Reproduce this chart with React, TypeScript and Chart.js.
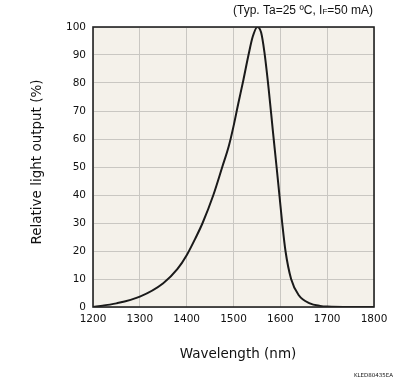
import React, { useEffect, useRef } from "react";
import { Chart, registerables } from "chart.js";

Chart.register(...registerables);

const wavelengths = [1200, 1250, 1300, 1350, 1380, 1400, 1420, 1434, 1457, 1476, 1490, 1500, 1510, 1521, 1532, 1541, 1551, 1559, 1566, 1575, 1584, 1592, 1598, 1604, 1611, 1623, 1639, 1663, 1685, 1700, 1750, 1800];
const relOutput = [0, 1.3, 3.7, 8.5, 13.5, 18.5, 25, 30, 40, 50, 57.5, 64.5, 72.5, 81, 90, 96.5, 100, 98, 91, 78, 63, 50, 40, 30, 20, 10, 4.3, 1.3, 0.4, 0.15, 0, 0];
const xTicks = [1200, 1300, 1400, 1500, 1600, 1700, 1800];
const yTicks = [0, 10, 20, 30, 40, 50, 60, 70, 80, 90, 100];
const xTitle = "Wavelength (nm)";
const yTitle = "Relative light output (%)";
const noteMain = "(Typ. Ta=25 ºC, I";
const noteSub = "F";
const noteEnd = "=50 mA)";
const codeLabel = "KLED80435EA";

const FONT = "'DejaVu Sans', sans-serif";
const NOTE_FONT = "'Liberation Sans', sans-serif";

const decorPlugin = {
  id: "decor",
  beforeDraw(chart: any) {
    const { ctx, chartArea: a } = chart;
    ctx.save();
    ctx.fillStyle = "#f4f1ea";
    ctx.fillRect(a.left, a.top, a.right - a.left, a.bottom - a.top);
    ctx.restore();
  },
  afterDraw(chart: any) {
    const { ctx, chartArea: a } = chart;
    ctx.save();
    ctx.strokeStyle = "#222";
    ctx.lineWidth = 1.6;
    ctx.strokeRect(a.left, a.top, a.right - a.left, a.bottom - a.top);

    ctx.fillStyle = "#111";
    ctx.font = `13.5px ${FONT}`;
    ctx.textAlign = "center";
    ctx.textBaseline = "middle";
    ctx.fillText(xTitle, 238, 354);

    ctx.save();
    ctx.translate(37, 162);
    ctx.rotate(-Math.PI / 2);
    ctx.fillText(yTitle, 0, 0);
    ctx.restore();

    // annotation, right aligned
    ctx.textAlign = "left";
    ctx.textBaseline = "alphabetic";
    const fMain = `12px ${NOTE_FONT}`;
    const fSub = `8px ${NOTE_FONT}`;
    ctx.font = fMain;
    const w1 = ctx.measureText(noteMain).width;
    const w3 = ctx.measureText(noteEnd).width;
    ctx.font = fSub;
    const w2 = ctx.measureText(noteSub).width;
    const total = w1 + w2 + w3;
    let x = a.right - 1 - total;
    const base = 14;
    ctx.font = fMain;
    ctx.fillText(noteMain, x, base);
    x += w1;
    ctx.font = fSub;
    ctx.fillText(noteSub, x, base);
    x += w2;
    ctx.font = fMain;
    ctx.fillText(noteEnd, x, base);

    ctx.font = `5.5px ${FONT}`;
    ctx.textAlign = "right";
    ctx.fillText(codeLabel, 393, 377);
    ctx.restore();
  },
};

export default function App() {
  const ref = useRef<HTMLCanvasElement | null>(null);
  useEffect(() => {
    if (!ref.current) return;
    const chart = new Chart(ref.current, {
      type: "line",
      data: {
        datasets: [
          {
            data: wavelengths.map((w, i) => ({ x: w, y: relOutput[i] })),
            borderColor: "#1a1a1a",
            borderWidth: 2,
            pointRadius: 0,
            cubicInterpolationMode: "monotone",
            fill: false,
          },
        ],
      },
      options: {
        responsive: false,
        animation: false,
        layout: { padding: { top: 27, right: 22, left: 0, bottom: 0 } },
        plugins: { legend: { display: false }, tooltip: { enabled: false } },
        scales: {
          x: {
            type: "linear",
            min: 1200,
            max: 1800,
            afterBuildTicks: (s: any) => {
              s.ticks = xTicks.map((v) => ({ value: v }));
            },
            afterFit: (s: any) => {
              s.height = 73;
            },
            ticks: {
              color: "#111",
              font: { family: FONT, size: 10.5 },
              padding: 6,
              maxRotation: 0,
              callback: (v: any) => String(v),
            },
            grid: { color: "#c9c7c2", lineWidth: 1, drawTicks: false },
            border: { display: false },
          },
          y: {
            min: 0,
            max: 100,
            afterBuildTicks: (s: any) => {
              s.ticks = yTicks.map((v) => ({ value: v }));
            },
            afterFit: (s: any) => {
              s.width = 93;
            },
            ticks: {
              color: "#111",
              font: { family: FONT, size: 10.5 },
              padding: 7,
              callback: (v: any) => String(v),
            },
            grid: { color: "#c9c7c2", lineWidth: 1, drawTicks: false },
            border: { display: false },
          },
        },
      },
      plugins: [decorPlugin],
    } as any);
    return () => chart.destroy();
  }, []);
  return (
    <div style={{ position: "absolute", left: 0, top: 0, width: 396, height: 380, background: "#fff" }}>
      <canvas ref={ref} width={396} height={380} style={{ display: "block" }} />
    </div>
  );
}
